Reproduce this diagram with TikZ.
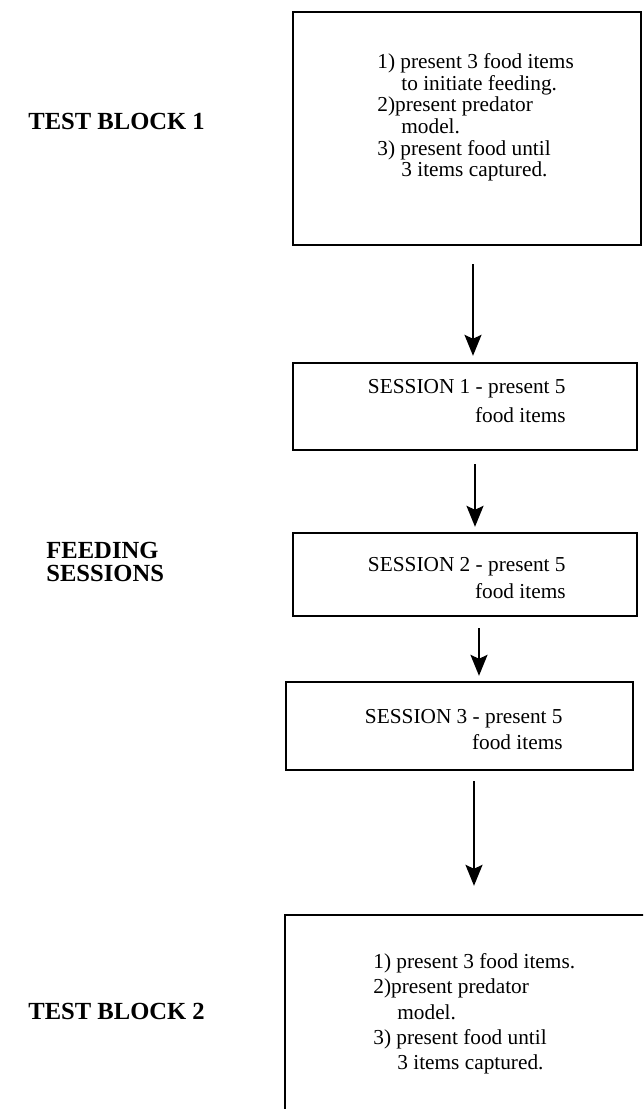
\documentclass[tikz,border=0pt]{standalone}
\usepackage{fontspec}
\setmainfont{Liberation Serif}
\usetikzlibrary{arrows.meta,positioning}
\tikzset{
    line/.style     = {-{Stealth[length=10.5pt,width=8.5pt,inset=2pt]}, line width=1pt, draw=black},
    block/.style    = {draw=black, line width=1.2pt, inner sep=0pt},
    heading/.style  = {anchor=north west, inner sep=0pt, align=left,
            font=\bfseries\fontsize{12.3}{11.5}\selectfont},
    listtext/.style = {anchor=north west, inner sep=0pt, align=left,
            font=\fontsize{10.65}{10.85}\selectfont},
    sesstext/.style = {anchor=north east, inner sep=0pt, align=right,
            font=\fontsize{10.65}{14.5}\selectfont},
}

\begin{document}
\begin{tikzpicture}[x=0.5pt, y=-0.5pt]
    \useasboundingbox (0,0) rectangle (643,1109);
    \fill[white] (0,0) rectangle (643,1109);
    \clip (0,0) rectangle (643,1109);

    % Boxes
    \node[block, minimum width=174pt, minimum height=116.5pt] (blockA) at (467,128.5) {};
    \node[block, minimum width=172pt, minimum height=43.5pt] (sessA) at (465,406.5) {};
    \node[block, minimum width=172pt, minimum height=41.5pt] (sessB) at (465,574.5) {};
    \node[block, minimum width=173.5pt, minimum height=44pt] (sessC) at (459.5,726) {};
    \node[block, minimum width=189pt, minimum height=107.5pt] (blockB) at (474,1022.5) {};

    % Texts
    \node[heading] (headA) at (28,113) {TEST BLOCK 1};
    \node[heading] (headB) at (46,542) {FEEDING\\SESSIONS};
    \node[heading] (headC) at (28,1003) {TEST BLOCK 2};

    \node[listtext] (blockAtext) at (377,53) {1) present 3 food items\\
        \hspace*{12pt}to initiate feeding.\\
        2)present predator\\
        \hspace*{12pt}model.\\
        3) present food until\\
        \hspace*{12pt}3 items captured.};
    \node[sesstext] (sessAtext) at (566,379) {SESSION 1 - present 5\\food items};
    \node[sesstext, font=\fontsize{10.65}{13.5}\selectfont] (sessBtext) at (566,557) {SESSION 2 - present 5\\food items};
    \node[sesstext, font=\fontsize{10.65}{13}\selectfont] (sessCtext) at (563,709) {SESSION 3 - present 5\\food items};
    \node[listtext, font=\fontsize{10.65}{12.65}\selectfont] (blockBtext) at (373,953) {1) present 3 food items.\\
        2)present predator\\
        \hspace*{12pt}model.\\
        3) present food until\\
        \hspace*{12pt}3 items captured.};

    % Arrows
    \draw[line, shorten <=9pt, shorten >=3pt] ([xshift=3pt]blockA.south) -- ([xshift=3pt]blockA.south |- sessA.north);
    \draw[line, shorten <=6.5pt, shorten >=2.5pt] ([xshift=5pt]sessA.south) -- ([xshift=5pt]sessA.south |- sessB.north);
    \draw[line, shorten <=5.5pt, shorten >=2.5pt] ([xshift=7pt]sessB.south) -- ([xshift=7pt]sessB.south |- sessC.north);
    \draw[line, shorten <=5pt, shorten >=14pt] ([xshift=7.25pt]sessC.south) -- ([xshift=7.25pt]sessC.south |- blockB.north);
\end{tikzpicture}
\end{document}
